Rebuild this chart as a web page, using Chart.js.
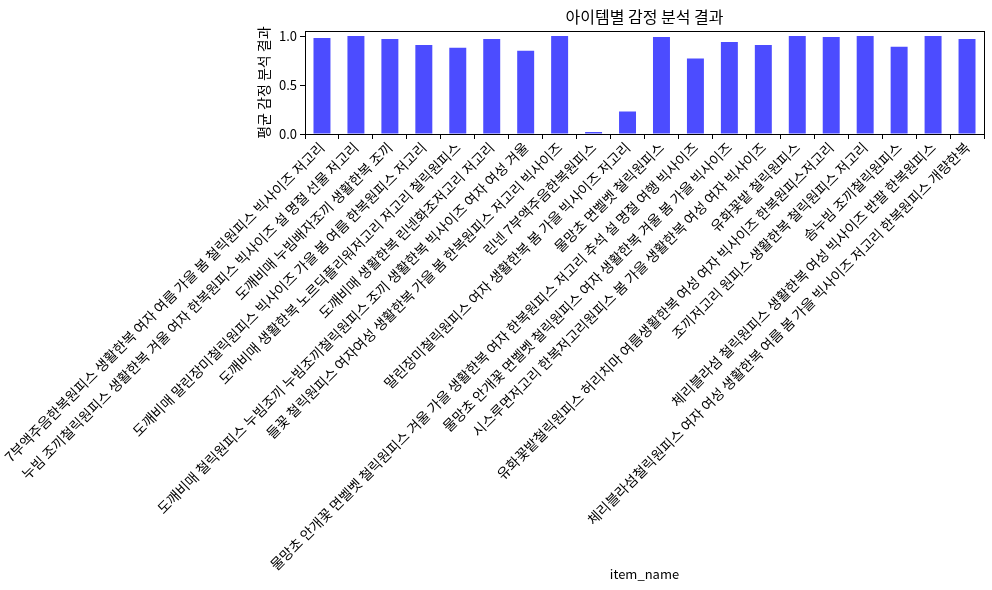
<!DOCTYPE html>
<html>
<head>
<meta charset="utf-8">
<script src="https://cdn.jsdelivr.net/npm/chart.js@4/dist/chart.umd.min.js"></script>
<style>
  html, body { margin:0; padding:0; background:#fff; }
  #wrap { width:992px; height:590px; }
</style>
</head>
<body>
<div id="wrap"><canvas id="chart" width="992" height="590"></canvas></div>
<script>
const categories = [
  "7부액주음한복원피스 생활한복 여자 여름 가을 봄 철릭원피스 빅사이즈 저고리",
  "누빔 조끼철릭원피스 생활한복 겨울 여자 한복원피스 빅사이즈 설 명절 선물 저고리",
  "도깨비매 누빔배자조끼 생활한복 조끼",
  "도깨비매 말린장미철릭원피스 빅사이즈 가을 봄 여름 한복원피스 저고리",
  "도깨비매 생활한복 노르딕플리워저고리 저고리 철릭원피스",
  "도깨비매 생활한복 린넨화조저고리 저고리",
  "도깨비매 철릭원피스 누빔조끼 누빔조끼철릭원피스 조끼 생활한복 빅사이즈 여자 여성 겨울",
  "들꽃 철릭원피스 여자여성 생활한복 가을 봄 한복원피스 저고리 빅사이즈",
  "린넨 7부액주음한복원피스",
  "말린장미철릭원피스 여자 생활한복 봄 가을 빅사이즈 저고리",
  "물망초 면벨벳 철릭원피스",
  "물망초 안개꽃 면벨벳 철릭원피스 겨울 가을 생활한복 여자 한복원피스 저고리 추석 설 명절 여행 빅사이즈",
  "물망초 안개꽃 면벨벳 철릭원피스 여자 생활한복 겨울 봄 가을 빅사이즈",
  "시스루면저고리 한복저고리원피스 봄 가을 생활한복 여성 여자 빅사이즈",
  "유화꽃밭 철릭원피스",
  "유화꽃밭철릭원피스 허리치마 여름생활한복 여성 여자 빅사이즈 한복원피스저고리",
  "조끼저고리 원피스 생활한복 철릭원피스 저고리",
  "솜누빔 조끼철릭원피스",
  "체리블라섬 철릭원피스 생활한복 여성 빅사이즈 반팔 한복원피스",
  "체리블라섬철릭원피스 여자 여성 생활한복 여름 봄 가을 빅사이즈 저고리 한복원피스 개량한복"
];
const sentimentValues = [0.98, 1.0, 0.97, 0.91, 0.88, 0.97, 0.85, 1.0, 0.02, 0.23,
                         0.99, 0.77, 0.94, 0.91, 1.0, 0.99, 1.0, 0.89, 1.0, 0.97];
const yTicks = [0.0, 0.5, 1.0];
const yMax = 1.05;

const FONT = "'Noto Sans CJK KR', 'Noto Sans', sans-serif";
Chart.defaults.font.family = FONT;
Chart.defaults.color = "#000";

// matplotlib-like frame on all four sides
const frame = {
  id: "frame",
  afterDatasetsDraw(chart){
    const a = chart.chartArea, ctx = chart.ctx;
    ctx.save();
    ctx.strokeStyle = "#000";
    ctx.lineWidth = 1;
    ctx.strokeRect(Math.round(a.left)+0.5, Math.round(a.top)+0.5,
                   Math.round(a.right-a.left), Math.round(a.bottom-a.top));
    ctx.restore();
  }
};

new Chart(document.getElementById("chart"), {
  type: "bar",
  data: {
    labels: categories,
    datasets: [{
      data: sentimentValues,
      backgroundColor: "rgba(0,0,255,0.7)",
      categoryPercentage: 1.0,
      barPercentage: 0.5
    }]
  },
  options: {
    responsive: false,
    animation: false,
    layout: { padding: { left: 0, right: 8, top: 0, bottom: 0 } },
    plugins: {
      legend: { display: false },
      tooltip: { enabled: false },
      title: {
        display: true,
        fullSize: false,
        text: "아이템별 감정 분석 결과",
        color: "#000",
        font: { size: 16, weight: "normal" },
        padding: { top: 7, bottom: 5 }
      }
    },
    scales: {
      x: {
        grid: { display: true, drawOnChartArea: false, drawTicks: true, tickLength: 5, color: "#000" },
        border: { display: true, color: "#000" },
        ticks: {
          autoSkip: false, minRotation: 45, maxRotation: 45,
          font: { size: 14 }, color: "#000", padding: 0
        },
        title: {
          display: true, text: "item_name", color: "#000",
          font: { size: 13 }, padding: { top: 4, bottom: 8 }
        },
        afterFit(scale){
          scale.height = 456;
          scale.paddingLeft = 305;
          scale.paddingRight = 0;
        }
      },
      y: {
        min: 0, max: yMax,
        grid: { display: true, drawOnChartArea: false, drawTicks: true, tickLength: 5, color: "#000" },
        border: { display: true, color: "#000" },
        afterBuildTicks(scale){ scale.ticks = yTicks.map(v => ({ value: v })); },
        ticks: {
          font: { size: 13 }, color: "#000", padding: 3,
          callback: v => Number(v).toFixed(1)
        },
        title: {
          display: true, text: "평균 감정 분석 결과", color: "#000",
          font: { size: 14 }, padding: { top: 0, bottom: 4 }
        }
      }
    }
  },
  plugins: [frame]
});
</script>
</body>
</html>
